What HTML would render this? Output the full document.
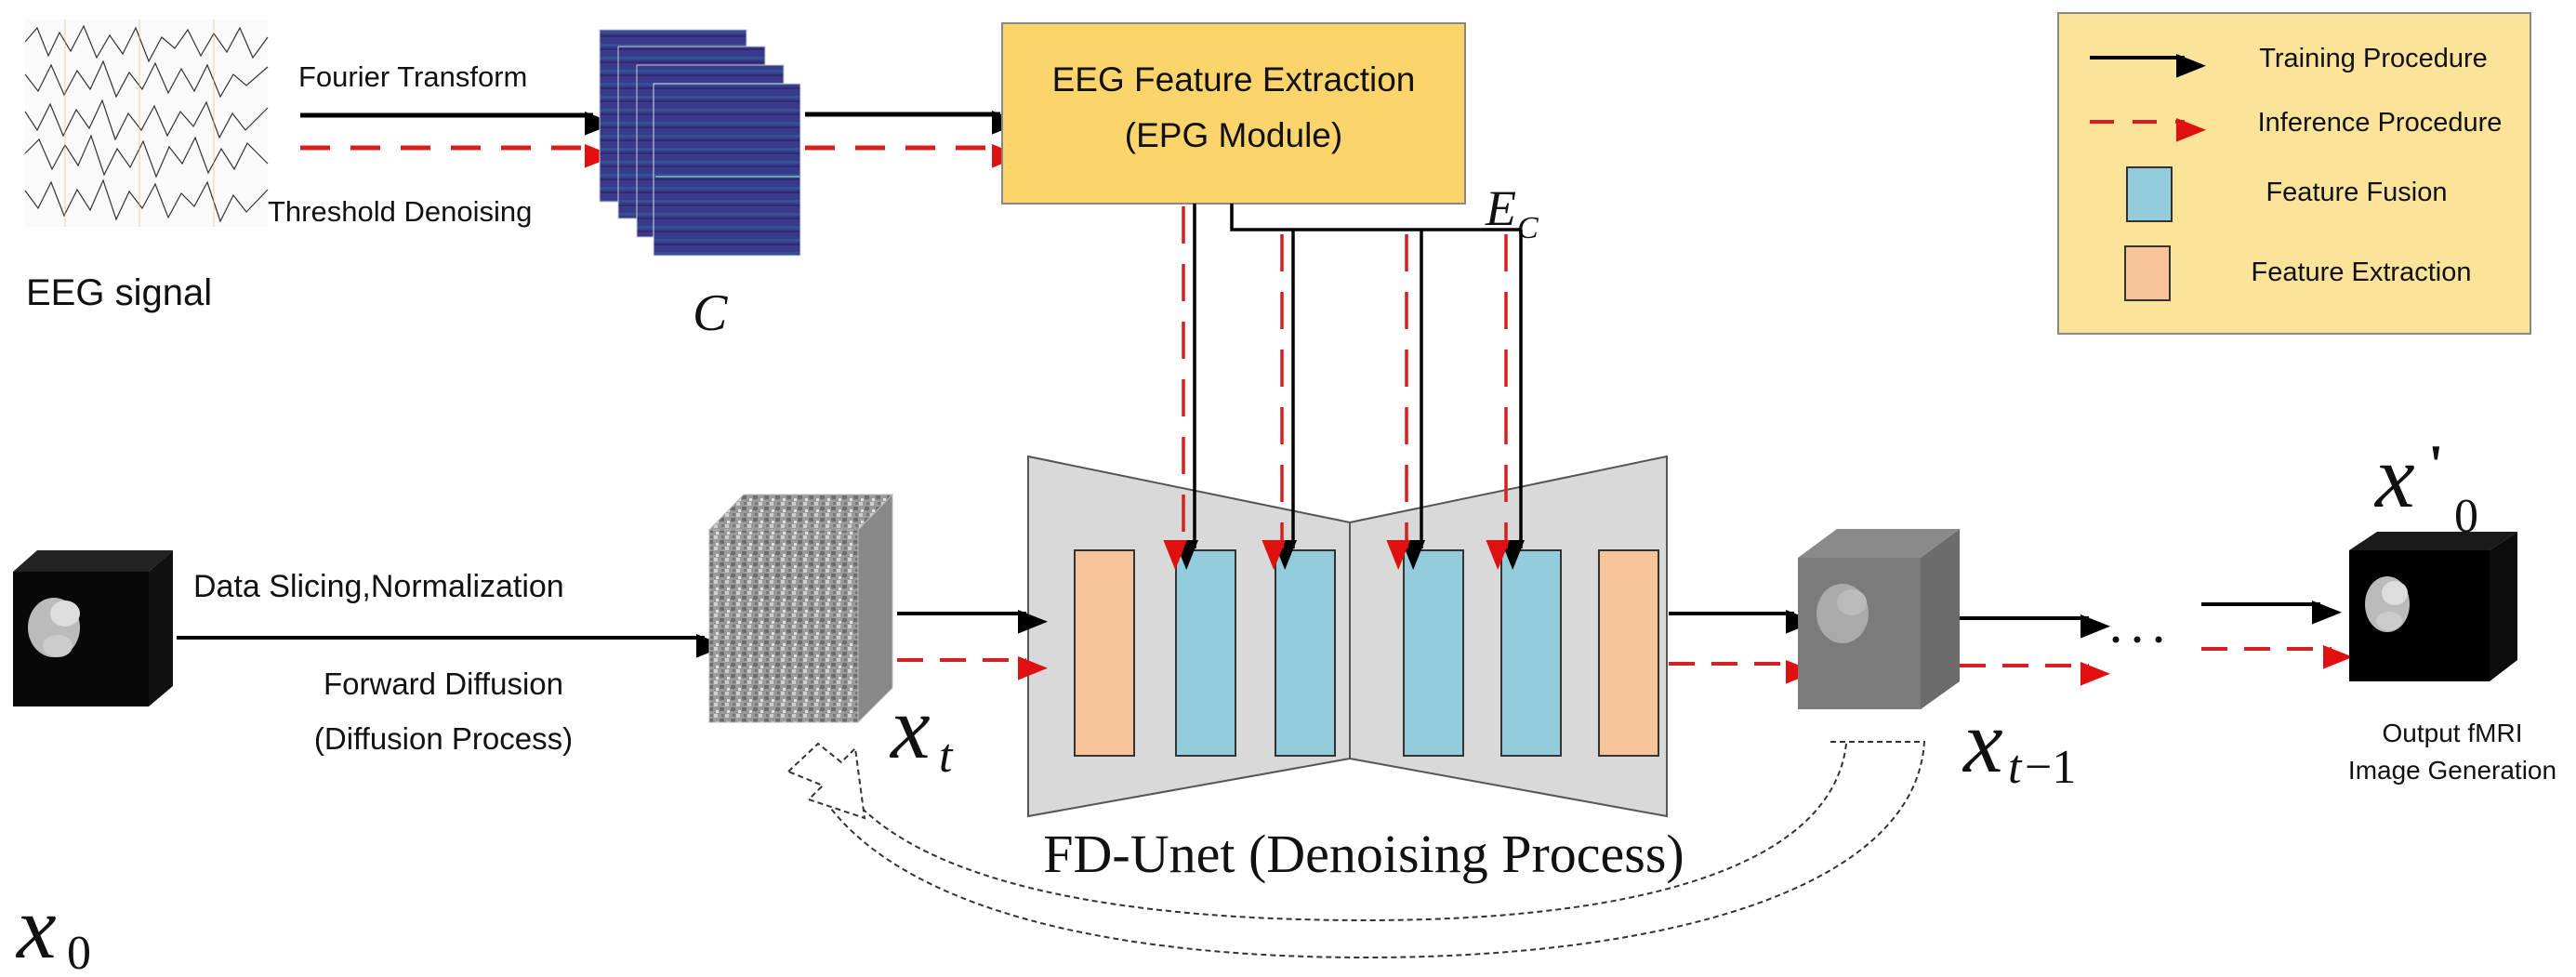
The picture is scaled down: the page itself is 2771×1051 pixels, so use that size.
<!DOCTYPE html>
<html><head><meta charset="utf-8"><style>
html,body{margin:0;padding:0;background:#fff}
svg{display:block}
.s{font-family:"Liberation Sans",sans-serif}
.r{font-family:"Liberation Serif",serif}
</style></head><body>
<svg width="2771" height="1051" viewBox="0 0 2771 1051" xmlns="http://www.w3.org/2000/svg">
<defs>
<marker id="ab" markerWidth="10" markerHeight="8" refX="9" refY="4" orient="auto" markerUnits="userSpaceOnUse" viewBox="0 0 10 8" style="overflow:visible"><path d="M0,0 L10,4 L0,8 z" fill="#000" transform="scale(3.2)"/></marker>
<marker id="ar" markerWidth="10" markerHeight="8" refX="9" refY="4" orient="auto" markerUnits="userSpaceOnUse" viewBox="0 0 10 8" style="overflow:visible"><path d="M0,0 L10,4 L0,8 z" fill="#e01010" transform="scale(3.2)"/></marker>
<pattern id="noise" width="12" height="12" patternUnits="userSpaceOnUse">
<rect width="12" height="12" fill="#9a9a9a"/><rect x="0" y="0" width="4" height="4" fill="#cfcfcf"/><rect x="6" y="5" width="5" height="4" fill="#6e6e6e"/><rect x="2" y="8" width="3" height="3" fill="#e0e0e0"/><rect x="8" y="0" width="3" height="3" fill="#777"/>
</pattern>
<pattern id="spec" width="160" height="14" patternUnits="userSpaceOnUse">
<rect width="160" height="14" fill="#3a3a8c"/><rect y="5" width="160" height="3" fill="#2f5f9a" opacity=".6"/><rect y="10" width="160" height="2" fill="#322a70"/>
</pattern>
</defs>

<!-- EEG signal image -->
<rect x="27" y="21" width="261" height="223" fill="#fafafa"/>
<g stroke="#333" stroke-width="1.2" fill="none">
<polyline points="27,45 40,30 52,60 64,35 76,55 90,28 104,62 118,38 132,58 146,30 160,66 174,40 188,52 202,32 216,60 230,36 244,56 258,30 272,62 288,40"/>
<polyline points="27,80 41,98 55,70 69,102 83,76 97,96 111,66 125,104 139,78 153,96 167,68 181,100 195,74 209,98 223,70 237,104 251,80 265,92 288,72"/>
<polyline points="27,120 40,140 54,112 68,146 82,118 96,138 110,108 124,150 138,122 152,140 166,114 180,146 194,120 208,136 222,110 236,148 250,122 264,140 288,116"/>
<polyline points="27,165 42,150 56,182 70,156 84,178 98,146 112,188 126,160 140,180 154,152 168,190 182,158 196,176 210,148 224,186 238,160 252,182 266,154 288,176"/>
<polyline points="27,205 41,224 55,196 69,232 83,204 97,226 111,194 125,236 139,206 153,224 167,198 181,234 195,208 209,222 223,196 237,238 251,210 265,228 288,204"/>
</g>
<g stroke="#e8b070" stroke-width="1" opacity=".6"><line x1="70" y1="21" x2="70" y2="244"/><line x1="150" y1="21" x2="150" y2="244"/><line x1="230" y1="21" x2="230" y2="244"/></g>
<text x="28" y="328" class="s" font-size="40" fill="#111">EEG signal</text>

<!-- Fourier arrows -->
<text x="321" y="93" class="s" font-size="31" fill="#111">Fourier Transform</text>
<line x1="323" y1="124" x2="638" y2="124" stroke="#000" stroke-width="5" marker-end="url(#ab)"/>
<line x1="323" y1="159" x2="638" y2="159" stroke="#d62020" stroke-width="5" stroke-dasharray="32,22" marker-end="url(#ar)"/>
<text x="288" y="238" class="s" font-size="31" fill="#111">Threshold Denoising</text>

<!-- spectrogram stack -->
<rect x="645" y="32" width="158" height="185" fill="url(#spec)" stroke="#ccc"/>
<rect x="665" y="50" width="158" height="185" fill="url(#spec)" stroke="#ccc"/>
<rect x="685" y="70" width="158" height="185" fill="url(#spec)" stroke="#ccc"/>
<rect x="703" y="90" width="158" height="185" fill="url(#spec)" stroke="#ddd"/>
<line x1="705" y1="190" x2="860" y2="190" stroke="#7fd0a0" stroke-width="2" opacity=".7"/>
<text x="745" y="355" class="r" font-style="italic" font-size="56" fill="#111">C</text>

<line x1="866" y1="123" x2="1076" y2="123" stroke="#000" stroke-width="5" marker-end="url(#ab)"/>
<line x1="866" y1="159" x2="1076" y2="159" stroke="#d62020" stroke-width="5" stroke-dasharray="32,22" marker-end="url(#ar)"/>

<!-- EEG Feature Extraction box -->
<rect x="1078" y="25" width="498" height="194" fill="#fbd56c" stroke="#888" stroke-width="2"/>
<text x="1327" y="98" text-anchor="middle" class="s" font-size="37" fill="#111">EEG Feature Extraction</text>
<text x="1327" y="158" text-anchor="middle" class="s" font-size="37" fill="#111">(EPG Module)</text>
<text x="1598" y="242" class="r" font-style="italic" font-size="54" fill="#111">E</text>
<text x="1632" y="256" class="r" font-style="italic" font-size="34" fill="#111">C</text>

<!-- Legend -->
<rect x="2214" y="14" width="508" height="345" fill="#fbe39a" stroke="#888" stroke-width="2"/>
<line x1="2248" y1="62" x2="2350" y2="62" stroke="#000" stroke-width="4" marker-end="url(#ab)"/>
<text x="2553" y="72" text-anchor="middle" class="s" font-size="29" fill="#111">Training Procedure</text>
<line x1="2248" y1="131" x2="2350" y2="131" stroke="#d62020" stroke-width="4" stroke-dasharray="26,20" marker-end="url(#ar)"/>
<text x="2560" y="141" text-anchor="middle" class="s" font-size="29" fill="#111">Inference Procedure</text>
<rect x="2288" y="180" width="48" height="58" fill="#93ccdb" stroke="#333" stroke-width="2"/>
<text x="2535" y="216" text-anchor="middle" class="s" font-size="29" fill="#111">Feature Fusion</text>
<rect x="2286" y="265" width="48" height="58" fill="#f7c49a" stroke="#333" stroke-width="2"/>
<text x="2540" y="302" text-anchor="middle" class="s" font-size="29" fill="#111">Feature Extraction</text>

<!-- Unet -->
<polygon points="1106,491 1452,562 1452,816 1106,878" fill="#d9d9d9" stroke="#555" stroke-width="2"/>
<polygon points="1452,562 1793,491 1793,878 1452,816" fill="#d9d9d9" stroke="#555" stroke-width="2"/>
<g stroke="#333" stroke-width="2">
<rect x="1156" y="592" width="64" height="221" fill="#f7c49a"/>
<rect x="1265" y="592" width="64" height="221" fill="#93ccdb"/>
<rect x="1372" y="592" width="64" height="221" fill="#93ccdb"/>
<rect x="1510" y="592" width="64" height="221" fill="#93ccdb"/>
<rect x="1615" y="592" width="64" height="221" fill="#93ccdb"/>
<rect x="1720" y="592" width="64" height="221" fill="#f7c49a"/>
</g>
<!-- vertical connectors -->
<g stroke="#000" stroke-width="3.5" fill="none">
<line x1="1285" y1="219" x2="1285" y2="590" marker-end="url(#ab)"/>
<polyline points="1325,219 1325,247 1636,247"/>
<line x1="1391" y1="247" x2="1391" y2="590" marker-end="url(#ab)"/>
<line x1="1529" y1="247" x2="1529" y2="590" marker-end="url(#ab)"/>
<line x1="1636" y1="247" x2="1636" y2="590" marker-end="url(#ab)"/>
</g>
<g stroke="#d62020" stroke-width="3.5" stroke-dasharray="40,22">
<line x1="1273" y1="222" x2="1273" y2="590" marker-end="url(#ar)"/>
<line x1="1379" y1="252" x2="1379" y2="590" marker-end="url(#ar)"/>
<line x1="1513" y1="252" x2="1513" y2="590" marker-end="url(#ar)"/>
<line x1="1620" y1="252" x2="1620" y2="590" marker-end="url(#ar)"/>
</g>
<text x="1467" y="938" text-anchor="middle" class="r" font-size="58" fill="#111">FD-Unet (Denoising Process)</text>

<!-- x0 brain cube -->
<polygon points="14,615 40,592 186,592 160,615" fill="#222"/>
<polygon points="160,615 186,592 186,738 160,760" fill="#111"/>
<rect x="14" y="615" width="146" height="145" fill="#080808"/>
<ellipse cx="58" cy="675" rx="28" ry="32" fill="#bbb"/><ellipse cx="70" cy="660" rx="16" ry="14" fill="#ddd"/><ellipse cx="62" cy="695" rx="16" ry="12" fill="#ccc"/>
<text x="18" y="1030" class="r" font-style="italic" font-size="96" fill="#111">x</text>
<text x="72" y="1042" class="r" font-size="52" fill="#111">0</text>

<text x="208" y="642" class="s" font-size="34" fill="#111">Data Slicing,Normalization</text>
<line x1="190" y1="686" x2="758" y2="686" stroke="#000" stroke-width="4" marker-end="url(#ab)"/>
<text x="477" y="747" text-anchor="middle" class="s" font-size="33" fill="#111">Forward Diffusion</text>
<text x="477" y="806" text-anchor="middle" class="s" font-size="33" fill="#111">(Diffusion Process)</text>

<!-- noise cube x_t -->
<polygon points="763,570 800,532 960,532 923,570" fill="url(#noise)" stroke="#bbb"/>
<polygon points="923,570 960,532 960,740 923,777" fill="#888" stroke="#bbb"/>
<rect x="763" y="570" width="160" height="207" fill="url(#noise)" stroke="#bbb"/>
<text x="958" y="815" class="r" font-style="italic" font-size="96" fill="#111">x</text>
<text x="1010" y="830" class="r" font-style="italic" font-size="52" fill="#111">t</text>
<line x1="965" y1="660" x2="1104" y2="660" stroke="#000" stroke-width="4" marker-end="url(#ab)"/>
<line x1="965" y1="710" x2="1104" y2="710" stroke="#d62020" stroke-width="4" stroke-dasharray="28,18" marker-end="url(#ar)"/>

<line x1="1795" y1="660" x2="1930" y2="660" stroke="#000" stroke-width="4" marker-end="url(#ab)"/>
<line x1="1795" y1="714" x2="1930" y2="714" stroke="#d62020" stroke-width="4" stroke-dasharray="28,18" marker-end="url(#ar)"/>

<!-- x_{t-1} cube -->
<polygon points="1934,600 1976,569 2108,569 2066,600" fill="#8a8a8a"/>
<polygon points="2066,600 2108,569 2108,733 2066,763" fill="#6c6c6c"/>
<rect x="1934" y="600" width="132" height="163" fill="#7b7b7b"/>
<ellipse cx="1982" cy="660" rx="28" ry="32" fill="#aaa"/><ellipse cx="1992" cy="648" rx="16" ry="14" fill="#bbb"/>
<text x="2112" y="830" class="r" font-style="italic" font-size="96" fill="#111">x</text>
<text x="2160" y="842" class="r" font-style="italic" font-size="52" fill="#111">t</text>
<text x="2178" y="842" class="r" font-size="52" fill="#111">−1</text>

<line x1="2108" y1="665" x2="2247" y2="665" stroke="#000" stroke-width="4" marker-end="url(#ab)"/>
<line x1="2108" y1="716" x2="2247" y2="716" stroke="#d62020" stroke-width="4" stroke-dasharray="28,18" marker-end="url(#ar)"/>
<circle cx="2276" cy="688" r="3.5" fill="#111"/><circle cx="2299" cy="688" r="3.5" fill="#111"/><circle cx="2322" cy="688" r="3.5" fill="#111"/>
<line x1="2368" y1="650" x2="2496" y2="650" stroke="#000" stroke-width="4" marker-end="url(#ab)"/>
<line x1="2368" y1="698" x2="2508" y2="698" stroke="#d62020" stroke-width="4" stroke-dasharray="28,18" marker-end="url(#ar)"/>

<!-- output cube -->
<polygon points="2527,592 2557,572 2708,572 2678,592" fill="#1a1a1a"/>
<polygon points="2678,592 2708,572 2708,710 2678,733" fill="#0c0c0c"/>
<rect x="2527" y="592" width="151" height="141" fill="#000"/>
<ellipse cx="2568" cy="650" rx="24" ry="30" fill="#bbb"/><ellipse cx="2576" cy="638" rx="14" ry="13" fill="#ddd"/><ellipse cx="2570" cy="668" rx="14" ry="10" fill="#ccc"/>
<text x="2555" y="545" class="r" font-style="italic" font-size="96" fill="#111">x</text>
<text x="2612" y="520" class="r" font-size="60" font-weight="bold" fill="#111">'</text>
<text x="2640" y="572" class="r" font-size="52" fill="#111">0</text>
<text x="2638" y="798" text-anchor="middle" class="s" font-size="28" fill="#111">Output fMRI</text>
<text x="2638" y="838" text-anchor="middle" class="s" font-size="28" fill="#111">Image Generation</text>

<!-- loop-back dashed arcs -->
<g fill="none" stroke="#333" stroke-width="2" stroke-dasharray="6,4">
<path d="M1969,798 L2070,798 C2060,960 1780,1030 1470,1030 C1200,1030 960,980 880,850"/>
<path d="M1986,800 C1970,940 1740,990 1470,990 C1200,990 1000,950 918,860"/>
<polygon points="848,830 880,800 905,820 920,805 930,880 870,860 885,845" fill="#fff"/>
</g>
</svg>
</body></html>
